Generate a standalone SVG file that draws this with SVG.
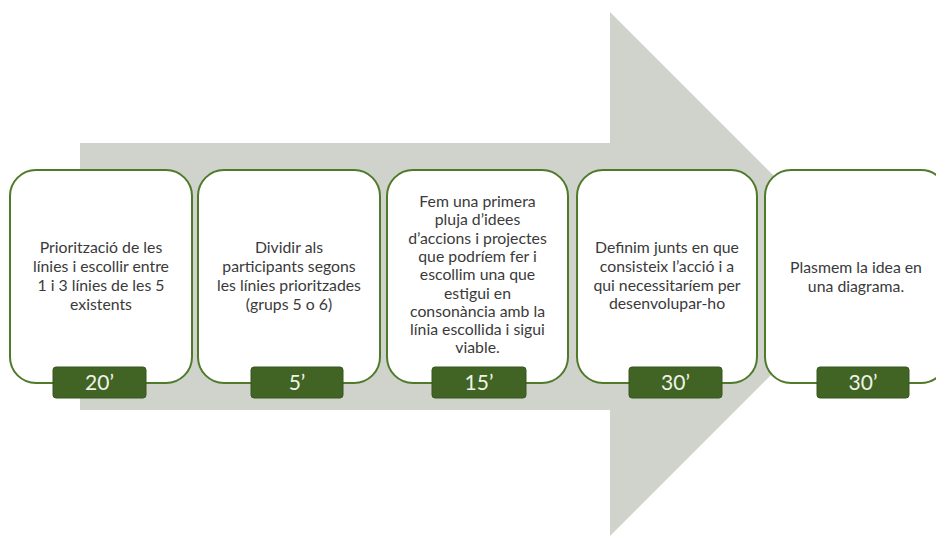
<svg xmlns="http://www.w3.org/2000/svg" width="936" height="536" viewBox="0 0 936 536">
<style>
.box{fill:#ffffff;stroke:#4e7a2a;stroke-width:2}
.badge{fill:#416424;stroke:#37561e;stroke-width:1}
.t{font-family:Lato,"Open Sans",sans-serif;font-size:15.8px;fill:#3a3a3a;text-anchor:middle}
.b{font-family:Lato,"Open Sans",sans-serif;font-size:21px;fill:#eef3e8;text-anchor:middle}
</style>
<rect width="936" height="536" fill="#ffffff"/>
<g id="arrow">
<polygon points="80,143 610,143 610,12 872,274 610,536 610,410 80,410" fill="#d0d3cc"/>
</g>
<g id="connectors"></g>
<g id="step1">
<rect class="box" x="10" y="170" width="182" height="213" rx="26"/>
<text class="t" x="101"><tspan x="101" y="253">Priorització de les</tspan><tspan x="101" y="272">línies i escollir entre</tspan><tspan x="101" y="291">1 i 3 línies de les 5</tspan><tspan x="101" y="310">existents</tspan></text>
<rect class="badge" x="53" y="367" width="93" height="31" rx="3"/>
<text class="b" x="99.5" y="390">20’</text>
</g>
<g id="step2">
<rect class="box" x="198" y="170" width="182" height="213" rx="26"/>
<text class="t"><tspan x="289" y="253">Dividir als</tspan><tspan x="289" y="272">participants segons</tspan><tspan x="289" y="291">les línies prioritzades</tspan><tspan x="289" y="310">(grups 5 o 6)</tspan></text>
<rect class="badge" x="251" y="367" width="92" height="31" rx="3"/>
<text class="b" x="297" y="390">5’</text>
</g>
<g id="step3">
<rect class="box" x="387" y="170" width="181" height="213" rx="26"/>
<text class="t"><tspan x="477.5" y="207">Fem una primera</tspan><tspan x="477.5" y="225.3">pluja d’idees</tspan><tspan x="477.5" y="243.6">d’accions i projectes</tspan><tspan x="477.5" y="261.9">que podríem fer i</tspan><tspan x="477.5" y="280.2">escollim una que</tspan><tspan x="477.5" y="298.5">estigui en</tspan><tspan x="477.5" y="316.8">consonància amb la</tspan><tspan x="477.5" y="335.1">línia escollida i sigui</tspan><tspan x="477.5" y="353.4">viable.</tspan></text>
<rect class="badge" x="432" y="367" width="94" height="31" rx="3"/>
<text class="b" x="479" y="390">15’</text>
</g>
<g id="step4">
<rect class="box" x="577" y="170" width="180" height="213" rx="26"/>
<text class="t"><tspan x="667" y="253">Definim junts en que</tspan><tspan x="667" y="272">consisteix l’acció i a</tspan><tspan x="667" y="291">qui necessitaríem per</tspan><tspan x="667" y="309">desenvolupar-ho</tspan></text>
<rect class="badge" x="629" y="367" width="93" height="31" rx="3"/>
<text class="b" x="675.5" y="390">30’</text>
</g>
<g id="step5">
<rect class="box" x="765" y="170" width="182" height="213" rx="26"/>
<text class="t"><tspan x="856" y="273">Plasmem la idea en</tspan><tspan x="856" y="292">una diagrama.</tspan></text>
<rect class="badge" x="817" y="367" width="92" height="31" rx="3"/>
<text class="b" x="863" y="390">30’</text>
</g>
</svg>
